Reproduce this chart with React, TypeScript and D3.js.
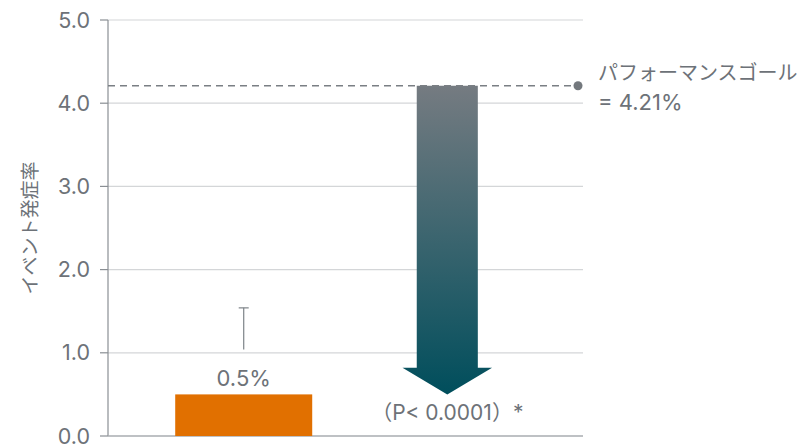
import * as React from 'react';
import { scaleLinear, scalePoint } from 'd3';

// chart data
const categories = ['実績', 'ゴール'];
const observedRate = 0.5;
const errorLow = 1.04;
const errorHigh = 1.54;
const goalRate = 4.21;
const yTicks = [0, 1, 2, 3, 4, 5];
const yLabel = 'イベント発症率';
const goalLabel = ['パフォーマンスゴール', '= 4.21%'];
const pLabel = '（P< 0.0001）*';

const W = 799;
const H = 446;
const margin = { top: 20, right: 216, bottom: 10, left: 108 };
const FONT = 'Inter, "Noto Sans CJK JP", sans-serif';
const TEXT = '#6d7278';

const App = () => {
    const x = scalePoint<string>()
        .domain(categories)
        .range([margin.left, W - margin.right])
        .padding(2 / 3);
    const y = scaleLinear().domain([0, 5]).range([H - margin.bottom, margin.top]);
    const step = x.step();
    const barW = step * 0.673;
    const shaftW = step * 0.3;
    const headW = step * 0.44;
    const headH = y(0.5) - y(0.82);

    const cx0 = x(categories[0])!;
    const cx1 = x(categories[1])!;
    const right = W - margin.right;

    const arrowPath = [
        [cx1 - shaftW / 2, y(goalRate)],
        [cx1 + shaftW / 2, y(goalRate)],
        [cx1 + shaftW / 2, y(observedRate) - headH],
        [cx1 + headW / 2, y(observedRate) - headH],
        [cx1, y(observedRate)],
        [cx1 - headW / 2, y(observedRate) - headH],
        [cx1 - shaftW / 2, y(observedRate) - headH],
    ].map(p => p.join(',')).join(' ');

    return (
        <svg width={W} height={H} style={{ position: 'absolute', left: 0, top: 0, fontFamily: FONT }}>
            <defs>
                <linearGradient id="arrowGrad" x1="0" y1="0" x2="0" y2="1">
                    <stop offset="0%" stopColor="#757b81" />
                    <stop offset="100%" stopColor="#004e5c" />
                </linearGradient>
            </defs>

            {/* grid + ticks */}
            {yTicks.map(t => (
                <g key={t}>
                    {t > 0 && <line x1={margin.left} x2={right} y1={y(t)} y2={y(t)} stroke="#d4d6d8" strokeWidth={1.2} />}
                    <line x1={margin.left - 8} x2={margin.left} y1={y(t)} y2={y(t)} stroke="#8a8f94" strokeWidth={1.2} />
                    <text x={margin.left - 18} y={y(t)} dy="0.35em" textAnchor="end" fontSize={21.5} fill={TEXT}>
                        {t.toFixed(1)}
                    </text>
                </g>
            ))}
            <line x1={margin.left} x2={margin.left} y1={y(5)} y2={y(0)} stroke="#8a8f94" strokeWidth={1.2} />
            <line x1={margin.left} x2={right} y1={y(0)} y2={y(0)} stroke="#a9adb1" strokeWidth={1.5} />

            <text transform={`translate(30,${(y(0) + y(5)) / 2}) rotate(-90)`} textAnchor="middle" dy="0.35em" fontSize={19} fill={TEXT}>
                {yLabel}
            </text>

            {/* observed bar */}
            <rect x={cx0 - barW / 2} y={y(observedRate)} width={barW} height={y(0) - y(observedRate)} fill="#e17000" />
            <line x1={cx0} x2={cx0} y1={y(errorLow)} y2={y(errorHigh)} stroke="#7d8388" strokeWidth={1.2} />
            <line x1={cx0 - 5} x2={cx0 + 5} y1={y(errorHigh)} y2={y(errorHigh)} stroke="#7d8388" strokeWidth={1.2} />
            <text x={cx0} y={y(observedRate) - 8} textAnchor="middle" fontSize={22} fill={TEXT}>
                {observedRate}%
            </text>

            {/* goal arrow */}
            <polygon points={arrowPath} fill="url(#arrowGrad)" />
            <line x1={margin.left} x2={right - 5} y1={y(goalRate)} y2={y(goalRate)} stroke="#7a7f84" strokeWidth={1.5} strokeDasharray="7,5" />
            <circle cx={right - 5} cy={y(goalRate)} r={4.5} fill="#73787d" />
            <text x={right + 15} y={80} fontSize={20} fill={TEXT}>{goalLabel[0]}</text>
            <text x={right + 15} y={110} fontSize={22} fill={TEXT}>{goalLabel[1]}</text>
            <text x={cx1} y={420} textAnchor="middle" fontSize={21} fill={TEXT}>{pLabel}</text>
        </svg>
    );
};

export default App;
